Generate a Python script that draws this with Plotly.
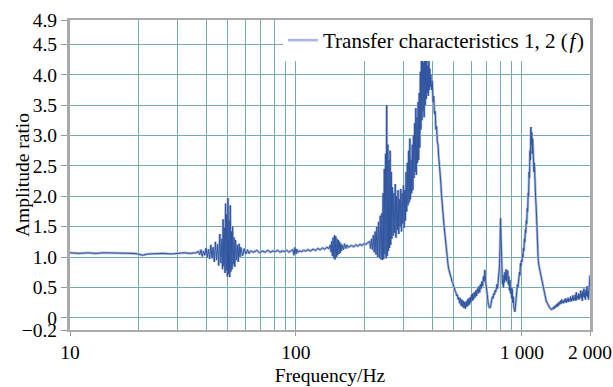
import plotly.graph_objects as go

# ---------------- data ----------------
# (frequency in Hz, amplitude ratio) pairs, grouped by frequency band
band_10_37 = [(10, 1.07), (11, 1.06), (12, 1.07), (13, 1.06), (14, 1.07), (15, 1.07), (16, 1.06),
              (17, 1.07), (18, 1.06), (19, 1.06), (20, 1.05), (21, 1.03), (22, 1.05), (24, 1.06),
              (26, 1.06), (28, 1.05), (30, 1.06), (32, 1.07), (34, 1.06), (36, 1.07)]

band_37_62 = [(37, 1.09), (37.5, 1.04), (38, 1.12), (38.5, 1.01), (39, 1.10), (39.5, 1.03), (40, 1.15),
              (40.5, 0.99), (41, 1.13), (41.5, 0.97), (42, 1.20), (42.5, 0.98), (43, 1.16), (43.5, 0.92),
              (44, 1.25), (44.5, 0.95), (45, 1.21), (45.5, 0.86), (46, 1.38), (46.5, 0.90), (47, 1.30),
              (47.3, 0.80), (47.6, 1.62), (47.9, 0.85), (48.2, 1.48), (48.5, 0.74), (48.8, 1.88),
              (49.1, 0.78), (49.4, 1.70), (49.7, 0.68), (50, 1.97), (50.3, 0.72), (50.6, 1.60),
              (50.9, 0.67), (51.2, 1.85), (51.5, 0.76), (51.8, 1.42), (52.1, 0.80), (52.4, 1.50),
              (52.8, 0.88), (53.2, 1.32), (53.6, 0.84), (54, 1.28), (54.5, 0.95), (55, 1.20), (55.5, 0.92),
              (56, 1.22), (56.5, 1.00), (57, 1.16), (58, 1.02), (59, 1.14), (60, 1.05), (61, 1.12), (62, 1.06)]

band_62_210 = [(63, 1.10), (65, 1.08), (67, 1.11), (69, 1.07), (71, 1.10), (73, 1.08), (75, 1.11),
               (77, 1.08), (79, 1.10), (81, 1.09), (83, 1.11), (85, 1.08), (87, 1.10), (89, 1.09),
               (91, 1.11), (93, 1.08), (95, 1.10), (97, 1.12), (98, 1.03), (99, 1.16), (100, 1.05),
               (101, 1.13), (102, 1.08), (104, 1.10), (106, 1.09), (108, 1.11), (110, 1.10), (113, 1.12),
               (116, 1.10), (119, 1.13), (122, 1.11), (125, 1.14), (128, 1.12), (131, 1.15), (134, 1.13),
               (137, 1.16), (140, 1.14), (142, 1.20), (143, 1.08), (144, 1.26), (145, 1.02), (146, 1.32),
               (147, 0.98), (148, 1.36), (149, 0.96), (150, 1.34), (151, 1.00), (152, 1.30), (153, 1.03),
               (154, 1.28), (155, 1.05), (156, 1.25), (157, 1.07), (158, 1.22), (159, 1.10), (160, 1.20),
               (162, 1.12), (164, 1.22), (166, 1.14), (168, 1.20), (170, 1.16), (173, 1.18), (176, 1.19),
               (180, 1.17), (184, 1.20), (188, 1.18), (192, 1.21), (196, 1.19), (200, 1.22), (204, 1.21),
               (208, 1.24)]

band_210_470 = [(212, 1.26), (214, 1.14), (216, 1.30), (218, 1.12), (220, 1.36), (222, 1.08), (224, 1.42),
                (226, 1.04), (228, 1.50), (230, 1.00), (232, 1.58), (234, 0.98), (236, 1.68), (238, 0.96),
                (240, 1.72), (241.5, 0.95), (243, 2.05), (244.5, 0.97), (246, 2.45), (247.5, 1.05),
                (249, 2.70), (250.5, 0.98), (252, 3.50), (253.5, 1.02), (255, 2.85), (256.5, 1.10),
                (258, 2.60), (259.5, 1.15), (261, 2.75), (262.5, 1.20), (264, 2.40), (265.5, 1.30),
                (267, 2.15), (269, 1.35), (271, 2.05), (273, 1.40), (275, 2.20), (277, 1.32), (279, 2.00),
                (281, 1.45), (283, 2.10), (285, 1.38), (287, 1.95), (289, 1.50), (291, 2.12), (293, 1.42),
                (295, 2.05), (297, 1.55), (299, 2.18), (301, 1.48), (303, 2.10), (305, 1.60), (307, 2.40),
                (309, 1.75), (311, 2.55), (313, 1.85), (315, 2.75), (317, 1.90), (319, 2.95), (321, 1.95),
                (323, 2.60), (325, 2.05), (327, 2.85), (329, 2.10), (331, 3.00), (333, 2.30), (335, 3.20),
                (337, 2.40), (339, 3.45), (341, 2.35), (343, 3.30), (345, 2.55), (347, 3.55), (349, 2.60),
                (351, 3.70), (353, 2.80), (355, 4.05), (357, 3.10), (359, 4.30), (361, 3.25), (363, 4.46),
                (365, 3.40), (367, 4.20), (369, 3.30), (371, 4.40), (373, 3.50), (375, 4.25), (377, 3.60),
                (379, 4.36), (381, 3.70), (383, 4.15), (385, 3.65), (387, 4.30), (389, 3.75), (391, 4.10),
                (393, 3.80), (395, 4.00), (398, 3.75), (401, 3.90), (404, 3.55), (407, 3.65), (410, 3.35),
                (413, 3.40), (416, 3.10), (419, 3.15), (422, 2.90), (425, 2.85), (428, 2.65), (431, 2.55),
                (434, 2.35), (437, 2.25), (440, 2.05), (443, 1.95), (446, 1.78), (449, 1.65), (452, 1.52),
                (455, 1.40), (458, 1.28), (461, 1.15), (464, 1.05), (467, 0.98)]

band_470_2000 = [(470, 0.90), (474, 0.80), (478, 0.76), (482, 0.70), (486, 0.66), (490, 0.60), (494, 0.58),
                 (498, 0.52), (502, 0.50), (506, 0.44), (510, 0.42), (514, 0.36), (518, 0.38), (522, 0.30),
                 (526, 0.34), (530, 0.24), (534, 0.32), (538, 0.20), (542, 0.30), (546, 0.18), (550, 0.28),
                 (554, 0.16), (558, 0.26), (562, 0.15), (566, 0.27), (570, 0.18), (574, 0.30), (578, 0.20),
                 (582, 0.32), (586, 0.22), (590, 0.34), (594, 0.25), (598, 0.38), (602, 0.28), (606, 0.40),
                 (610, 0.30), (615, 0.42), (620, 0.33), (625, 0.45), (630, 0.36), (635, 0.48), (640, 0.40),
                 (645, 0.52), (650, 0.42), (655, 0.55), (660, 0.48), (665, 0.60), (670, 0.52), (675, 0.68),
                 (680, 0.60), (685, 0.79), (690, 0.62), (695, 0.50), (700, 0.40), (705, 0.30), (710, 0.22),
                 (715, 0.18), (720, 0.16), (725, 0.18), (730, 0.24), (735, 0.28), (740, 0.35), (745, 0.32),
                 (750, 0.40), (755, 0.38), (760, 0.45), (765, 0.42), (770, 0.50), (775, 0.55), (780, 0.48),
                 (785, 0.60), (790, 0.70), (795, 0.85), (800, 1.20), (804, 1.64), (808, 1.30), (812, 0.80),
                 (816, 0.62), (820, 0.55), (824, 0.62), (828, 0.50), (832, 0.70), (836, 0.58), (840, 0.75),
                 (845, 0.62), (850, 0.80), (855, 0.60), (860, 0.70), (865, 0.78), (870, 0.55), (875, 0.68),
                 (880, 0.45), (885, 0.62), (890, 0.40), (895, 0.50), (900, 0.32), (905, 0.48), (910, 0.25),
                 (915, 0.35), (920, 0.18), (925, 0.14), (930, 0.10), (935, 0.18), (940, 0.30), (945, 0.45),
                 (950, 0.40), (955, 0.55), (960, 0.50), (965, 0.65), (970, 0.60), (975, 0.75), (980, 0.70),
                 (985, 0.90), (990, 0.85), (995, 0.95), (1000, 0.92), (1005, 1.05), (1010, 1.00), (1015, 1.15),
                 (1020, 1.10), (1025, 1.30), (1030, 1.25), (1035, 1.45), (1040, 1.40), (1045, 1.60),
                 (1050, 1.55), (1055, 1.80), (1060, 1.75), (1065, 2.05), (1070, 2.00), (1075, 2.40),
                 (1080, 2.30), (1085, 2.75), (1090, 2.60), (1095, 3.14), (1100, 2.85), (1105, 3.05),
                 (1110, 2.70), (1115, 2.95), (1120, 2.55), (1125, 2.80), (1130, 2.40), (1135, 2.55),
                 (1140, 2.20), (1145, 2.30), (1150, 1.95), (1155, 1.85), (1160, 1.60), (1165, 1.40),
                 (1170, 1.20), (1175, 1.05), (1180, 0.95), (1190, 0.85), (1200, 0.78), (1210, 0.70),
                 (1220, 0.62), (1230, 0.55), (1240, 0.48), (1250, 0.42), (1260, 0.36), (1270, 0.32),
                 (1280, 0.28), (1290, 0.25), (1300, 0.22), (1310, 0.20), (1320, 0.18), (1330, 0.16),
                 (1340, 0.15), (1350, 0.13), (1360, 0.16), (1370, 0.14), (1380, 0.18), (1390, 0.15),
                 (1400, 0.20), (1410, 0.17), (1420, 0.22), (1430, 0.18), (1440, 0.24), (1450, 0.20),
                 (1460, 0.26), (1470, 0.22), (1480, 0.28), (1490, 0.23), (1500, 0.30), (1510, 0.25),
                 (1520, 0.28), (1530, 0.24), (1540, 0.30), (1550, 0.26), (1560, 0.32), (1570, 0.25),
                 (1580, 0.30), (1590, 0.27), (1600, 0.33), (1610, 0.26), (1620, 0.31), (1630, 0.28),
                 (1640, 0.35), (1650, 0.27), (1660, 0.32), (1670, 0.29), (1680, 0.37), (1690, 0.28),
                 (1700, 0.34), (1710, 0.30), (1720, 0.38), (1730, 0.28), (1740, 0.42), (1750, 0.30),
                 (1760, 0.36), (1770, 0.32), (1780, 0.40), (1790, 0.30), (1800, 0.38), (1810, 0.34),
                 (1820, 0.45), (1830, 0.32), (1840, 0.40), (1850, 0.28), (1860, 0.44), (1870, 0.35),
                 (1880, 0.48), (1890, 0.33), (1900, 0.42), (1910, 0.30), (1920, 0.46), (1930, 0.36),
                 (1940, 0.52), (1950, 0.34), (1960, 0.44), (1970, 0.30), (1980, 0.50), (1990, 0.55),
                 (2000, 0.70)]

x_tick_vals = [10, 100, 1000, 2000]
x_tick_text = ["10", "100", "1 000", "2 000"]
x_minor_vals = [20, 30, 40, 50, 60, 70, 80, 90, 200, 300, 400, 500, 600, 700, 800, 900]
y_tick_vals = [-0.2, 0, 0.5, 1.0, 1.5, 2.0, 2.5, 3.0, 3.5, 4.0, 4.5, 4.9]
y_tick_text = ["\u22120.2", "0", "0.5", "1.0", "1.5", "2.0", "2.5", "3.0", "3.5", "4.0", "4.5", "4.9"]
series_name = "Transfer characteristics 1, 2 (\u200a<i>f</i>\u200a)"
y_title = "Amplitude ratio"
x_title = "Frequency/Hz"

# ---------------- build ----------------
pairs = band_10_37 + band_37_62 + band_62_210 + band_210_470 + band_470_2000
freq = [p[0] for p in pairs]
amp = [p[1] for p in pairs]

GRID = "#76abab"
FONT = "Liberation Serif"
FS = 19.5

fig = go.Figure()
# soft halo (also the legend sample)
fig.add_trace(go.Scatter(x=freq, y=amp, mode="lines", name=series_name,
                         line=dict(color="#a9b8dc", width=2.6), showlegend=True))
# dark core line
fig.add_trace(go.Scatter(x=freq, y=amp, mode="lines", name=series_name,
                         line=dict(color="#30559f", width=1.0), showlegend=False))

fig.update_layout(
    width=613, height=387,
    margin=dict(l=70, r=23, t=20, b=57),
    plot_bgcolor="white", paper_bgcolor="white",
    font=dict(family=FONT, size=FS, color="black"),
    legend=dict(x=1, y=1, xanchor="right", yanchor="top", bgcolor="white",
                borderwidth=0, font=dict(family=FONT, size=21, color="black"),
                itemwidth=30, tracegroupgap=0),
    showlegend=True,
)
fig.add_annotation(text=y_title, xref="paper", yref="paper", x=0, y=0.5,
                   xshift=-48, xanchor="center", yanchor="middle", textangle=-90,
                   showarrow=False, font=dict(family=FONT, size=FS, color="black"))
fig.update_xaxes(
    type="log", range=[1, 3.30103],
    tickmode="array", tickvals=x_tick_vals, ticktext=x_tick_text,
    ticks="outside", ticklen=4, tickcolor="#999999",
    showgrid=True, gridcolor=GRID, gridwidth=1.3,
    minor=dict(tickmode="array", tickvals=x_minor_vals, showgrid=True,
               gridcolor=GRID, gridwidth=1.3, ticks="", ticklen=0),
    showline=True, linecolor="#aaaaaa", linewidth=2, mirror=True,
    zeroline=False, automargin=False,
    title=dict(text=x_title, standoff=6, font=dict(family=FONT, size=FS)),
    tickfont=dict(family=FONT, size=FS),
)
fig.update_yaxes(
    range=[-0.2, 4.9],
    tickmode="array", tickvals=y_tick_vals, ticktext=y_tick_text,
    ticks="outside", ticklen=6, tickcolor="#999999",
    showgrid=True, gridcolor=GRID, gridwidth=1.3,
    showline=True, linecolor="#aaaaaa", linewidth=3, mirror=True,
    zeroline=False, automargin=False,
    tickfont=dict(family=FONT, size=FS),
)

fig.write_html("out.html", config={"displayModeBar": False},
               post_script="document.body.style.margin='0px';")
